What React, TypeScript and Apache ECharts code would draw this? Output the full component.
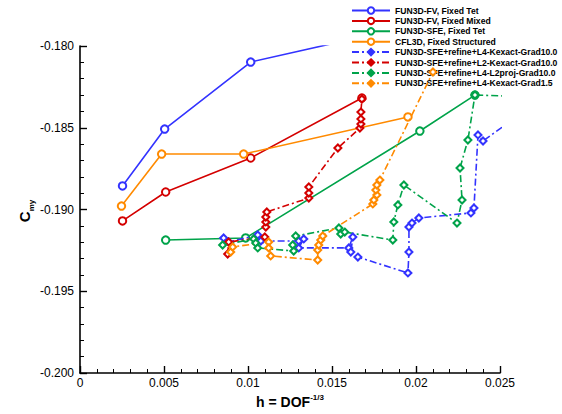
import React, { useEffect, useRef } from 'react';
import * as echarts from 'echarts';

const xTicks = [0, 0.005, 0.01, 0.015, 0.02, 0.025];
const yTicks = [-0.2, -0.195, -0.19, -0.185, -0.18];

const names = [
  'FUN3D-FV, Fixed Tet',
  'FUN3D-FV, Fixed Mixed',
  'FUN3D-SFE, Fixed Tet',
  'CFL3D, Fixed Structured',
  'FUN3D-SFE+refine+L4-Kexact-Grad10.0',
  'FUN3D-SFE+refine+L2-Kexact-Grad10.0',
  'FUN3D-SFE+refine+L4-L2proj-Grad10.0',
  'FUN3D-SFE+refine+L4-Kexact-Grad1.5',
];

const fvTet = [[0.00253, -0.18856], [0.00504, -0.18508], [0.01016, -0.18098], [0.0200, -0.1787]];
const fvMixed = [[0.00253, -0.1907], [0.0051, -0.18893], [0.01016, -0.18685], [0.01678, -0.18318]];
const sfeTet = [[0.0051, -0.19187], [0.00986, -0.19174], [0.02023, -0.1852], [0.02351, -0.183]];
const cfl3d = [[0.00247, -0.18979], [0.00486, -0.18661], [0.00974, -0.18661], [0.01952, -0.18434]];

const l4Kexact10 = [
  [0.00855, -0.19174], [0.00885, -0.19199], [0.01058, -0.19156], [0.01076, -0.19193],
  [0.01302, -0.19193], [0.01332, -0.1918], [0.01302, -0.19235], [0.016, -0.19235],
  [0.01624, -0.19168], [0.01612, -0.1926], [0.01654, -0.19291], [0.01952, -0.19388],
  [0.01958, -0.1926], [0.01958, -0.19107], [0.01976, -0.19083], [0.02017, -0.19052],
  [0.02327, -0.19021], [0.02345, -0.18991], [0.02369, -0.18544], [0.02399, -0.18581],
  [0.02744, -0.18324],
];
const l2Kexact10 = [
  [0.00879, -0.19272], [0.00885, -0.19199], [0.011, -0.19168], [0.01106, -0.19107],
  [0.01106, -0.19076], [0.01106, -0.19046], [0.01112, -0.19015], [0.01362, -0.1893],
  [0.01362, -0.18899], [0.01362, -0.18862], [0.01535, -0.18624], [0.01666, -0.18502],
  [0.01672, -0.18477], [0.01672, -0.18446], [0.01672, -0.18404], [0.01678, -0.18324],
];
const l4L2proj10 = [
  [0.00849, -0.19217], [0.01034, -0.1918], [0.01046, -0.19205], [0.01058, -0.19235],
  [0.01272, -0.19254], [0.01266, -0.19217], [0.01284, -0.19162], [0.01541, -0.19113],
  [0.01552, -0.1915], [0.01576, -0.19138], [0.01862, -0.19187], [0.01868, -0.19076],
  [0.01892, -0.18972], [0.01928, -0.1885], [0.02244, -0.19083], [0.02274, -0.18942],
  [0.02262, -0.18746], [0.02309, -0.18575], [0.02351, -0.183], [0.02744, -0.18312],
];
const l4Kexact15 = [
  [0.00897, -0.1926], [0.00909, -0.19229], [0.01123, -0.19199], [0.01123, -0.19235],
  [0.01135, -0.19284], [0.01415, -0.19309], [0.01415, -0.19248], [0.01421, -0.19217],
  [0.01433, -0.19187], [0.01445, -0.19162], [0.01743, -0.18966], [0.01749, -0.18942],
  [0.01767, -0.18911], [0.01761, -0.18881], [0.01767, -0.1885], [0.01785, -0.1882],
  [0.02101, -0.18159],
];

const colors = ['#3333ff', '#d40000', '#00a34a', '#ff8a00'];
const FONT = 'Liberation Sans, Arial, sans-serif';

export default function App() {
  const ref = useRef<HTMLDivElement>(null);
  useEffect(() => {
    if (!ref.current) return;
    const chart = echarts.init(ref.current, undefined, { renderer: 'svg' });

    const solid = (name: string, data: number[][], color: string) => ({
      name,
      type: 'line',
      data,
      symbol: 'emptyCircle',
      symbolSize: 7.5,
      showAllSymbol: true,
      clip: true,
      lineStyle: { color, width: 1.6 },
      itemStyle: { color, borderColor: color, borderWidth: 1.6 },
      z: 3,
    });
    const dashed = (name: string, data: number[][], color: string) => ({
      name,
      type: 'line',
      data: data.map((p) => ({ value: p, symbol: 'emptyDiamond' })),
      symbol: 'diamond',
      symbolSize: 7,
      showAllSymbol: true,
      clip: true,
      lineStyle: { color, width: 1.6, type: [7, 3, 2, 3] },
      itemStyle: { color, borderColor: color, borderWidth: 1.7 },
      z: 4,
    });

    chart.setOption({
      animation: false,
      textStyle: { fontFamily: FONT },
      grid: { left: 80, right: 62, top: 46, bottom: 41 },
      legend: {
        orient: 'vertical',
        left: 349,
        top: 5,
        backgroundColor: '#ffffff',
        padding: [1, 2, 1, 2],
        itemWidth: 38,
        itemHeight: 8,
        itemGap: 1.4,
        textStyle: { fontFamily: FONT, fontSize: 8.6, fontWeight: 'bold', color: '#000' },
        data: names,
      },
      xAxis: {
        type: 'value',
        min: xTicks[0],
        max: xTicks[xTicks.length - 1],
        interval: 0.005,
        axisLine: { lineStyle: { color: '#000', width: 1.6 } },
        axisTick: { inside: true, length: 7, lineStyle: { color: '#000', width: 1.4 } },
        minorTick: { show: true, splitNumber: 5, length: 4, lineStyle: { color: '#000', width: 1 } },
        splitLine: { show: false },
        axisLabel: { color: '#000', fontSize: 12, margin: 4, fontFamily: FONT },
      },
      yAxis: {
        type: 'value',
        min: yTicks[0],
        max: yTicks[yTicks.length - 1],
        interval: 0.005,
        axisLine: { show: true, lineStyle: { color: '#000', width: 1.6 } },
        axisTick: { show: true, inside: true, length: 7, lineStyle: { color: '#000', width: 1.4 } },
        minorTick: { show: true, splitNumber: 5, length: 4, lineStyle: { color: '#000', width: 1 } },
        splitLine: { show: false },
        axisLabel: {
          color: '#000',
          fontSize: 12,
          margin: 6,
          fontFamily: FONT,
          formatter: (v: number) => v.toFixed(3),
        },
      },
      graphic: [
        {
          type: 'text',
          x: 290,
          y: 401,
          style: {
            text: '{b|h = DOF}{s|-1/3}',
            align: 'center',
            verticalAlign: 'middle',
            rich: {
              b: { fontSize: 14, fontWeight: 'bold', fontFamily: FONT, fill: '#000', lineHeight: 16, verticalAlign: 'bottom' },
              s: { fontSize: 8, fontWeight: 'bold', fontFamily: FONT, fill: '#000', lineHeight: 10, verticalAlign: 'top' },
            },
          },
        },
        {
          type: 'text',
          x: 26,
          y: 211,
          rotation: Math.PI / 2,
          style: {
            text: '{b|C}{s|my}',
            align: 'center',
            verticalAlign: 'middle',
            rich: {
              b: { fontSize: 15, fontWeight: 'bold', fontFamily: FONT, fill: '#000', lineHeight: 18, verticalAlign: 'top' },
              s: { fontSize: 8, fontWeight: 'bold', fontFamily: FONT, fill: '#000', lineHeight: 9, verticalAlign: 'bottom' },
            },
          },
        },
      ],
      series: [
        solid(names[0], fvTet, colors[0]),
        solid(names[1], fvMixed, colors[1]),
        solid(names[2], sfeTet, colors[2]),
        solid(names[3], cfl3d, colors[3]),
        dashed(names[4], l4Kexact10, colors[0]),
        dashed(names[5], l2Kexact10, colors[1]),
        dashed(names[6], l4L2proj10, colors[2]),
        dashed(names[7], l4Kexact15, colors[3]),
      ],
    });
    return () => chart.dispose();
  }, []);
  return (
    <div
      ref={ref}
      style={{ position: 'absolute', left: 0, top: 0, width: 562, height: 414, background: '#fff' }}
    />
  );
}
